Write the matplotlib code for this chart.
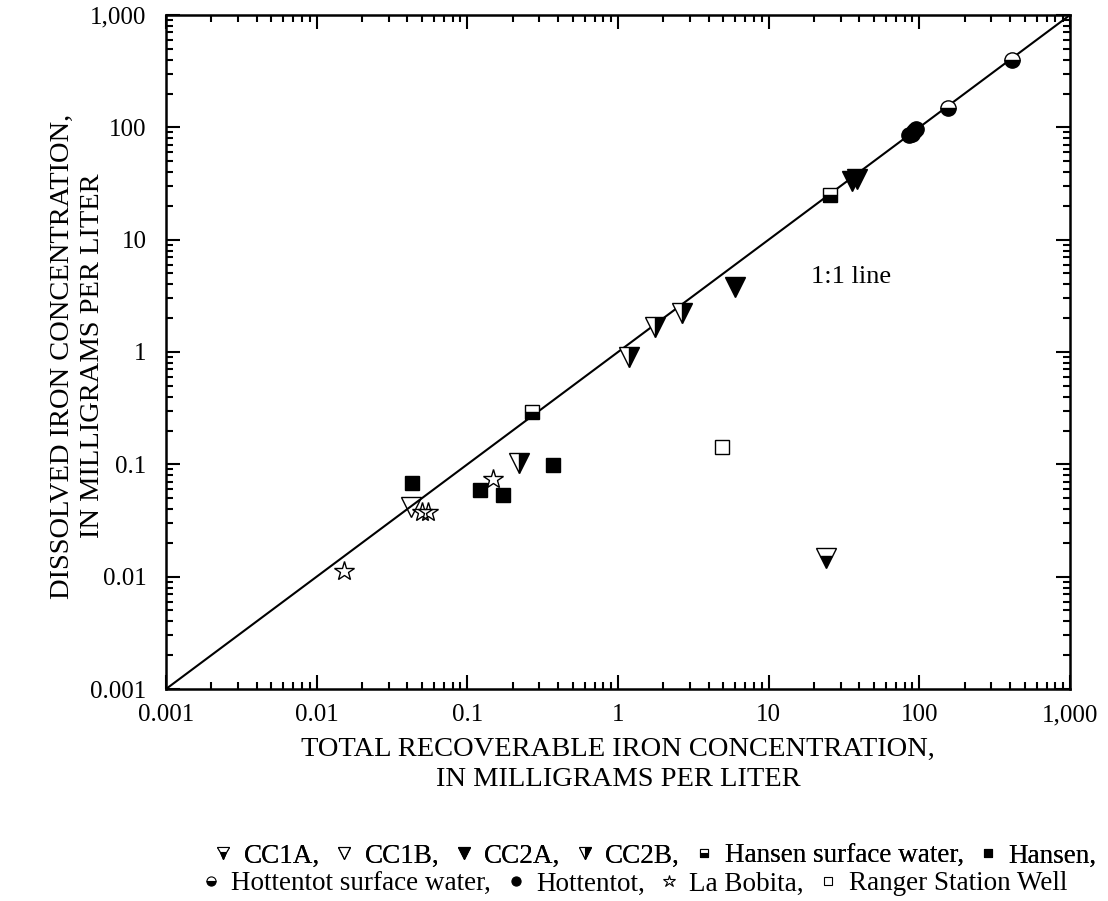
import numpy as np
import matplotlib.pyplot as plt
from matplotlib.ticker import FuncFormatter, LogLocator, NullFormatter
from matplotlib.lines import Line2D

plt.rcParams['font.family'] = ['Liberation Serif', 'DejaVu Serif']

# ----- date (mg/L) -----
cc1a_total = [24.0]
cc1a_diss = [0.0148]

cc1b_total = [0.042]
cc1b_diss = [0.042]

cc2a_total = [6.0, 36.0, 38.5]
cc2a_diss = [3.8, 33.0, 35.0]

cc2b_total = [0.22, 1.18, 1.76, 2.65]
cc2b_diss = [0.102, 0.90, 1.68, 2.22]

hansen_sw_total = [0.27, 25.5]
hansen_sw_diss = [0.29, 25.0]

hansen_total = [0.043, 0.121, 0.172, 0.37]
hansen_diss = [0.068, 0.059, 0.053, 0.098]

hott_sw_total = [155.0, 410.0]
hott_sw_diss = [150.0, 395.0]

hott_total = [86.0, 89.0, 92.0, 95.0]
hott_diss = [85.0, 88.0, 92.0, 96.0]

bobita_total = [0.0152, 0.050, 0.055, 0.148]
bobita_diss = [0.0112, 0.0375, 0.0375, 0.074]

ranger_total = [4.9]
ranger_diss = [0.142]

one_to_one = [0.001, 1000]

series = [
    ("CC1A", cc1a_total, cc1a_diss, dict(marker="v", fillstyle="bottom", ms=14)),
    ("CC1B", cc1b_total, cc1b_diss, dict(marker="v", fillstyle="none", ms=14)),
    ("CC2A", cc2a_total, cc2a_diss, dict(marker="v", fillstyle="full", ms=14)),
    ("CC2B", cc2b_total, cc2b_diss, dict(marker="v", fillstyle="right", ms=14)),
    ("Hansen surface water", hansen_sw_total, hansen_sw_diss, dict(marker="s", fillstyle="bottom", ms=10)),
    ("Hansen", hansen_total, hansen_diss, dict(marker="s", fillstyle="full", ms=10)),
    ("Hottentot surface water", hott_sw_total, hott_sw_diss, dict(marker="o", fillstyle="bottom", ms=11)),
    ("Hottentot", hott_total, hott_diss, dict(marker="o", fillstyle="full", ms=11)),
    ("La Bobita", bobita_total, bobita_diss, dict(marker="*", fillstyle="none", ms=15)),
    ("Ranger Station Well", ranger_total, ranger_diss, dict(marker="s", fillstyle="none", ms=10)),
]

fig = plt.figure(figsize=(11.08, 9.01), dpi=100)
ax = fig.add_axes([166 / 1108, 1 - 689 / 901, 904 / 1108, 674 / 901])

ax.plot(one_to_one, one_to_one, color="black", lw=1.5, zorder=1)

for name, xs, ys, st in series:
    ax.plot(xs, ys, ls="none", color="black", mec="black", mfc="black",
            markerfacecoloralt="white", mew=1.0, zorder=3, **st)

ax.set_xscale("log")
ax.set_yscale("log")
ax.set_xlim(0.001, 1000)
ax.set_ylim(0.001, 1000)

fmt = FuncFormatter(lambda v, p: f"{v:,.0f}" if v >= 1 else f"{v:g}")
for a in (ax.xaxis, ax.yaxis):
    a.set_major_locator(LogLocator(base=10, numticks=10))
    a.set_minor_locator(LogLocator(base=10, subs=np.arange(2, 10), numticks=20))
    a.set_major_formatter(fmt)
    a.set_minor_formatter(NullFormatter())
ax.tick_params(which="both", direction="in", top=True, right=True, width=1.5,
               labelsize=18)
ax.tick_params(axis="x", pad=11)
ax.tick_params(axis="y", pad=14)
ax.tick_params(which="major", length=10)
ax.tick_params(which="minor", length=5)
for s in ax.spines.values():
    s.set_linewidth(1.8)

ax.text(35, 4.7, "1:1 line", ha="center", va="center", fontsize=19)

ax.set_xlabel("TOTAL RECOVERABLE IRON CONCENTRATION,\nIN MILLIGRAMS PER LITER",
              fontsize=20.5, labelpad=8, linespacing=1.25)
ax.set_ylabel("DISSOLVED IRON CONCENTRATION,\nIN MILLIGRAMS PER LITER",
              fontsize=20.5, linespacing=1.25)
ax.yaxis.set_label_coords(-0.068, 0.494)

# ----- legenda pe doua randuri, ca un text continuu -----
handles = []
for name, xs, ys, st in series:
    st2 = dict(st)
    ms = st2.pop("ms")
    handles.append(Line2D([], [], ls="none", color="black", mec="black", mfc="black",
                          markerfacecoloralt="white", mew=0.8, ms=ms * 0.6, **st2))
labels = [s[0] + "," for s in series[:-1]] + [series[-1][0]]

kw = dict(frameon=False, fontsize=19.5, handlelength=0.6, handletextpad=0.45,
          columnspacing=0.6, borderpad=0, loc="center")
leg1 = fig.legend(handles[:6], labels[:6], ncol=6,
                  bbox_to_anchor=(656 / 1108, 1 - 856 / 901), **kw)
fig.add_artist(leg1)
fig.legend(handles[6:], labels[6:], ncol=4,
           bbox_to_anchor=(635 / 1108, 1 - 884 / 901), **kw)

fig.savefig("out.png", dpi=100)
